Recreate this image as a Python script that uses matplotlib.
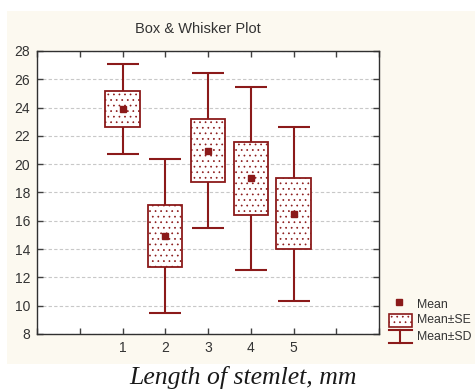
import matplotlib.pyplot as plt
from matplotlib.patches import Rectangle
from matplotlib.lines import Line2D

groups = [1, 2, 3, 4, 5]
means = [23.9, 14.9, 20.95, 19.0, 16.5]
se = [1.3, 2.2, 2.23, 2.6, 2.5]
sd = [3.15, 5.45, 5.47, 6.45, 6.15]

red = '#8b1a1a'
cream = '#fcf9f0'
txt = '#333333'

plt.rcParams['font.family'] = ['Liberation Sans', 'DejaVu Sans']
plt.rcParams['hatch.linewidth'] = 0.5

fig = plt.figure(figsize=(4.75, 3.92), dpi=100)
fig.patch.set_facecolor('white')
fig.add_artist(Rectangle((0.0147, 0.0714), 0.99, 0.9006, transform=fig.transFigure,
                         facecolor=cream, edgecolor='none', zorder=-10))

ax = fig.add_axes([0.0779, 0.148, 0.720, 0.722])
ax.set_facecolor('white')

# whiskers (mean +/- SD)
ax.errorbar(groups, means, yerr=sd, fmt='none', ecolor=red, elinewidth=1.5,
            capsize=11.5, capthick=1.5, zorder=2)
# boxes (mean +/- SE)
lo = [m - s for m, s in zip(means, se)]
ax.bar(groups, [2 * s for s in se], bottom=lo, width=0.8, facecolor='white',
       edgecolor=red, linewidth=1.3, hatch='...', zorder=3)
ax.plot(groups, means, 's', color=red, markersize=4.5, zorder=4)

ax.set_xlim(-1, 7)
ax.set_ylim(8, 28)
ax.set_xticks(range(-1, 8))
ax.set_xticklabels(['', '', '1', '2', '3', '4', '5', '', ''])
ax.set_yticks(range(8, 29, 2))
ax.tick_params(direction='in', top=True, right=True, length=4, width=1,
               colors='#404040', labelcolor=txt, labelsize=10, pad=5)
ax.grid(True, axis='y', linestyle=(0, (3, 2)), color='#c8c8c8', linewidth=0.8)
ax.set_axisbelow(True)
for sp in ax.spines.values():
    sp.set_color('#303030')
    sp.set_linewidth(1.0)

fig.text(0.417, 0.926, 'Box & Whisker Plot', ha='center', va='center',
         fontsize=10.5, color=txt)

# legend
fig.add_artist(Line2D([0.840], [0.2296], marker='s', color=red, markersize=4.5,
                      linestyle='none', transform=fig.transFigure))
fig.add_artist(Rectangle((0.819, 0.166), 0.048, 0.033, transform=fig.transFigure,
                         facecolor='white', edgecolor=red, linewidth=1.2, hatch='...'))
fig.add_artist(Line2D([0.842, 0.842], [0.125, 0.158], color=red, lw=1.5,
                      transform=fig.transFigure))
fig.add_artist(Line2D([0.819, 0.867], [0.158, 0.158], color=red, lw=1.5,
                      transform=fig.transFigure))
fig.add_artist(Line2D([0.819, 0.867], [0.125, 0.125], color=red, lw=1.5,
                      transform=fig.transFigure))
for y, lab in zip([0.222, 0.184, 0.140], ['Mean', 'Mean±SE', 'Mean±SD']):
    fig.text(0.878, y, lab, ha='left', va='center', fontsize=8.8, color=txt)

fig.text(0.512, 0.036, 'Length of stemlet, mm', ha='center', va='center',
         fontsize=18.5, style='italic', family=['Liberation Serif', 'DejaVu Serif'],
         color='#1a1a1a')

fig.savefig('out.png', dpi=100, facecolor='white')
